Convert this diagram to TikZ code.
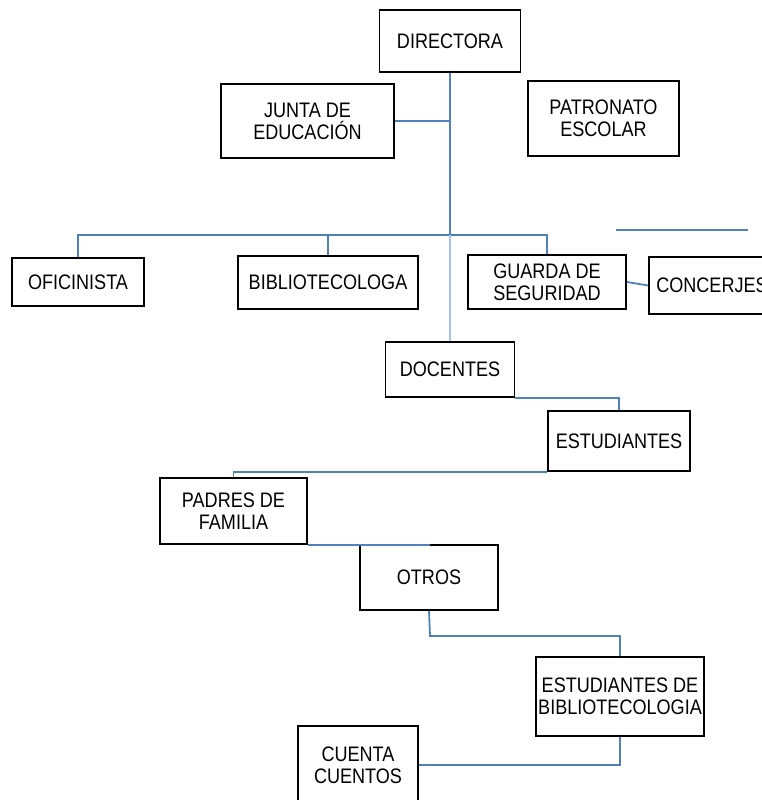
\documentclass[tikz,border=0pt]{standalone}
\usepackage{fontspec}
\setmainfont{Liberation Sans}[FakeStretch=0.86]
\definecolor{lineblue}{RGB}{79,129,189}
\definecolor{lightblue}{RGB}{165,195,230}
\begin{document}
\begin{tikzpicture}[x=1pt,y=-1pt,
  box/.style={draw=black,line width=1.6pt,fill=white,inner sep=0pt,align=center,
    font=\fontsize{21}{22}\selectfont},
  conn/.style={draw=lineblue,line width=1.8pt},
  lconn/.style={draw=lightblue,line width=1.6pt}]
\useasboundingbox (0,0) rectangle (762,800);
\clip (0,0) rectangle (762,800);
\coordinate (j1) at (450,235);
\coordinate (c1) at (430,636);
\node[box,minimum width=141pt,minimum height=62pt] (dir) at (450,41) {DIRECTORA};
\node[box,minimum width=173pt,minimum height=74pt] (junta) at (307.5,121) {JUNTA DE\\EDUCACIÓN};
\node[box,minimum width=151pt,minimum height=75pt] (patr) at (603.5,118.5) {PATRONATO\\ESCOLAR};
\node[box,minimum width=132pt,minimum height=48pt] (ofi) at (78,282) {OFICINISTA};
\node[box,minimum width=180pt,minimum height=53pt] (bib) at (328,282.5) {BIBLIOTECOLOGA};
\node[box,minimum width=158pt,minimum height=54pt] (guard) at (547,282) {GUARDA DE\\SEGURIDAD};
\node[box,minimum width=126pt,minimum height=57pt] (conc) at (712,285.5) {CONCERJES};
\node[box,minimum width=129pt,minimum height=55pt] (doc) at (450,369.5) {DOCENTES};
\node[box,minimum width=142pt,minimum height=60pt] (est) at (619,441) {ESTUDIANTES};
\node[box,minimum width=147pt,minimum height=66pt] (pad) at (233.5,511) {PADRES DE\\FAMILIA};
\node[box,minimum width=138pt,minimum height=65pt] (otros) at (429,577.5) {OTROS};
\node[box,minimum width=168pt,minimum height=79pt] (edb) at (620,696.5) {ESTUDIANTES DE\\BIBLIOTECOLOGIA};
\node[box,minimum width=120pt,minimum height=78pt] (cc) at (358,765) {CUENTA\\CUENTOS};
\coordinate (s1) at (616,230);
\coordinate (s2) at (748,230);
\draw[conn] (dir.south) -- (j1);
\draw[conn] (junta.east) -- (dir.south |- junta.east);
\draw[conn] (j1) -| (ofi.north);
\draw[conn] (j1) -| (bib.north);
\draw[conn] (j1) -| (guard.north);
\draw[conn] (guard.east) -- (conc.west);
\draw[lineblue,line width=2.6pt] (s1) -- (s2);
\draw[lconn] (j1) -- (doc.north);
\draw[conn] (doc.south east) -| (est.north);
\draw[conn] (est.south west) -| (pad.north);
\draw[conn] (pad.south east) -| (otros.north);
\draw[conn] (otros.south) -- (c1) -| (edb.north);
\draw[conn] (edb.south) |- (cc.east);
\end{tikzpicture}
\end{document}
